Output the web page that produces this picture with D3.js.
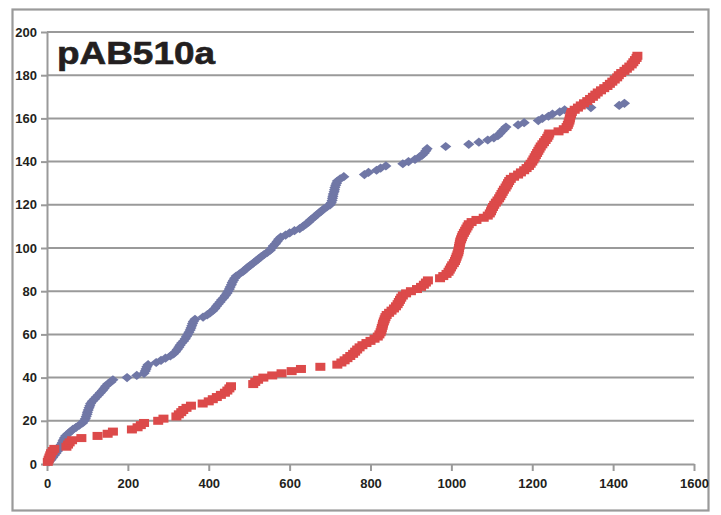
<!DOCTYPE html>
<html>
<head>
<meta charset="utf-8">
<script src="https://cdn.jsdelivr.net/npm/d3@7"></script>
<style>
  html, body { margin: 0; padding: 0; background: #ffffff; }
  svg { display: block; }
  .tick text { font-family: "Liberation Sans", Arial, Helvetica, sans-serif; font-weight: bold; fill: #231f20; }
</style>
</head>
<body>
<svg id="chart" width="721" height="515"></svg>
<script>
// Cumulative counts: each point is (position, running count)
const blueX = [
  5, 10, 14, 18, 22, 26, 29, 32, 35, 38,
  40, 43, 46, 52, 58, 64, 72, 80, 88, 92,
  95, 97, 99, 100, 102, 104, 106, 108, 112, 117,
  122, 127, 132, 137, 141, 145, 150, 158, 163, 198,
  222, 240, 243, 245, 247, 250, 270, 282, 293, 305,
  313, 318, 322, 326, 329, 333, 338, 342, 345, 348,
  351, 354, 356, 358, 360, 362, 366, 386, 396, 403,
  410, 415, 419, 423, 428, 432, 437, 441, 445, 448,
  451, 453, 456, 458, 461, 464, 468, 476, 484, 490,
  496, 503, 510, 517, 523, 530, 537, 545, 552, 556,
  560, 565, 569, 573, 578, 590, 600, 612, 625, 633,
  640, 647, 652, 659, 665, 671, 678, 684, 692, 700,
  703, 705, 706, 707, 708, 710, 711, 712, 714, 716,
  718, 725, 734, 785, 795, 815, 825, 838, 880, 894,
  910, 920, 928, 933, 937, 940, 986, 1043, 1068, 1090,
  1105, 1115, 1120, 1125, 1130, 1135, 1165, 1180, 1215, 1225,
  1240, 1250, 1268, 1280, 1345, 1415, 1428
];
const blueY = blueX.map((_, i) => i + 1);

const redX = [
  2, 4, 6, 8, 10, 14, 18, 48, 52, 56,
  62, 85, 125, 150, 163, 210, 224, 232, 240, 275,
  288, 320, 326, 332, 337, 345, 356, 385, 400, 410,
  420, 430, 440, 446, 451, 455, 510, 515, 522, 535,
  557, 580, 605, 628, 676, 718, 728, 736, 743, 750,
  757, 762, 767, 773, 780, 790, 800, 810, 818, 822,
  825, 827, 828, 830, 831, 833, 835, 837, 840, 846,
  852, 858, 863, 867, 870, 873, 876, 880, 888, 900,
  915, 925, 932, 937, 942, 972, 980, 988, 993, 996,
  999, 1002, 1006, 1009, 1011, 1013, 1015, 1017, 1018, 1019,
  1020, 1021, 1022, 1024, 1026, 1028, 1031, 1034, 1037, 1040,
  1043, 1050, 1062, 1080, 1090, 1095, 1098, 1100, 1103, 1106,
  1110, 1114, 1118, 1121, 1124, 1127, 1130, 1134, 1137, 1140,
  1143, 1147, 1155, 1165, 1172, 1180, 1186, 1192, 1196, 1200,
  1203, 1206, 1209, 1212, 1215, 1218, 1221, 1225, 1229, 1233,
  1237, 1240, 1242, 1265, 1278, 1285, 1288, 1290, 1292, 1293,
  1294, 1296, 1298, 1305, 1313, 1320, 1328, 1336, 1343, 1350,
  1356, 1362, 1370, 1378, 1386, 1392, 1398, 1404, 1410, 1414,
  1420, 1428, 1434, 1440, 1446, 1450, 1454, 1458, 1460
];
const redY = redX.map((_, i) => i + 1);

const xTicks = [0, 200, 400, 600, 800, 1000, 1200, 1400, 1600];
const yTicks = [0, 20, 40, 60, 80, 100, 120, 140, 160, 180, 200];
const title = "pAB510a";

const svg = d3.select("#chart");
const x = d3.scaleLinear().domain([0, 1600]).range([47, 694]);
const y = d3.scaleLinear().domain([0, 200]).range([464, 32]);
const gray = "#9a9a9a";

// outer frame
svg.append("rect")
  .attr("x", 12.5).attr("y", 9.5)
  .attr("width", 696).attr("height", 501)
  .attr("fill", "none").attr("stroke", gray).attr("stroke-width", 2.2);

// horizontal gridlines
svg.append("g").selectAll("line")
  .data(yTicks.filter(t => t > 0))
  .join("line")
  .attr("x1", x(0)).attr("x2", x(1600))
  .attr("y1", d => y(d)).attr("y2", d => y(d))
  .attr("stroke", gray).attr("stroke-width", 2);

// axes
const yAxis = svg.append("g")
  .attr("transform", `translate(${x(0)},0)`)
  .call(d3.axisLeft(y).tickValues(yTicks).tickFormat(d3.format("d"))
    .tickSize(6).tickSizeOuter(0).tickPadding(4));
const xAxis = svg.append("g")
  .attr("transform", `translate(0,${y(0)})`)
  .call(d3.axisBottom(x).tickValues(xTicks).tickFormat(d3.format("d"))
    .tickSize(7).tickSizeOuter(0).tickPadding(8));
[yAxis, xAxis].forEach(g => {
  g.select(".domain").attr("stroke", gray).attr("stroke-width", 2);
  g.selectAll(".tick line").attr("stroke", gray).attr("stroke-width", 2);
  g.selectAll(".tick text").style("font-size", "13px");
});

// title
svg.append("text")
  .attr("x", 57).attr("y", 64)
  .attr("textLength", 158).attr("lengthAdjust", "spacingAndGlyphs")
  .style("font-family", "'Liberation Sans', Arial, Helvetica, sans-serif")
  .style("font-weight", "bold").style("font-size", "31px")
  .attr("fill", "#231f20")
  .attr("stroke", "#231f20").attr("stroke-width", 0.6)
  .text(title);

// blue diamonds
const blue = blueX.map((v, i) => [v, blueY[i]]);
svg.append("g").selectAll("path")
  .data(blue)
  .join("path")
  .attr("transform", d => `translate(${x(d[0])},${y(d[1])})`)
  .attr("d", "M0,-4.6L5.6,0L0,4.6L-5.6,0Z")
  .attr("fill", "#7077a6");

// red squares
const red = redX.map((v, i) => [v, redY[i]]);
svg.append("g").selectAll("rect")
  .data(red)
  .join("rect")
  .attr("x", d => x(d[0]) - 5).attr("y", d => y(d[1]) - 4)
  .attr("width", 10).attr("height", 8)
  .attr("fill", "#dc4a4a");
</script>
</body>
</html>
